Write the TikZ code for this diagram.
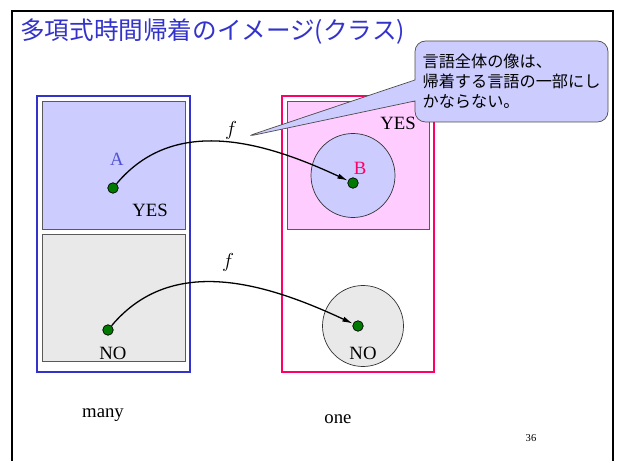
\documentclass[tikz,border=0pt]{standalone}
\usepackage{fontspec}
\setmainfont{Liberation Serif}
\newfontfamily\jpfont{Noto Sans CJK JP}
\usepackage{tikz}
\usetikzlibrary{positioning, arrows.meta, fit, shapes.callouts}

\definecolor{titleblue}{HTML}{3333CC}
\definecolor{framepink}{HTML}{FF0066}
\definecolor{setblue}{HTML}{CCCCFF}
\definecolor{setpink}{HTML}{FFCCFF}
\definecolor{setgray}{HTML}{E9E9E9}
\definecolor{dotgreen}{HTML}{007A00}

\begin{document}
\begin{tikzpicture}[
    x=0.03cm, y=-0.03cm,
    outer/.style={draw, line width=1.8pt, inner sep=0pt},
    inner/.style={draw=black!65, line width=0.6pt, inner sep=0pt},
    setcirc/.style={circle, draw=black!80, line width=0.6pt, inner sep=0pt},
    pt/.style={circle, draw=black, fill=dotgreen, inner sep=0pt, minimum size=9pt, line width=0.6pt},
    lbl/.style={font=\fontsize{16}{19}\selectfont, inner sep=0pt},
    farrow/.style={-{Latex[length=9pt, width=4.5pt]}, line width=1.1pt},
]
\useasboundingbox (0,0) rectangle (622,461);

% slide frame and title
\draw[line width=1.8pt] (12,470) -- (12,11) -- (613,11) -- (613,470);
\node[anchor=west, inner sep=0pt, text=titleblue, font=\jpfont\fontsize{21}{24}\selectfont] (title) at (20,31.5) {多項式時間帰着のイメージ(クラス)};

% left side: many
\node[outer, draw=titleblue, fit={(37,96) (190,372)}] (manybox) {};
\node[inner, fill=setblue, fit={(42,101) (185,229)}] (manyyes) {};
\node[inner, fill=setgray, fit={(42,234) (185,361)}] (manyno) {};
\node[pt] (adot) at (113,188) {};
\node[lbl, text=titleblue!85!white] (alabel) at (117,159) {A};
\node[lbl] (yesleft) at (150,210) {YES};
\node[pt] (nodotl) at (108,330) {};
\node[lbl] (noleft) at (113,353) {NO};

% right side: one
\node[outer, draw=framepink, fit={(282,96) (434,372)}] (onebox) {};
\node[inner, fill=setpink, fit={(287,101) (429,229)}] (oneyes) {};
\node[setcirc, fill=setblue, minimum size=2.52cm] (bset) at (353,175.5) {};
\node[setcirc, fill=setgray, minimum size=2.43cm] (noset) at (363,326) {};
\node[lbl] (yesright) at (398,123) {YES};
\node[lbl, text=framepink] (blabel) at (360,168) {B};
\node[pt] (bdot) at (353,183) {};
\node[pt] (nodotr) at (358,326) {};
\node[lbl] (noright) at (363,353) {NO};

% reduction f
\draw[farrow] (adot) to[out=50, in=155] (bdot);
\draw[farrow] (nodotl) to[out=50, in=155] (nodotr);
\node[lbl] (f1) at (231,130) {$f$};
\node[lbl] (f2) at (228,262) {$f$};

% callout
\coordinate (tip) at (245,137);
\node[rectangle callout, rounded corners=9pt, draw=black!70, line width=0.6pt, fill=setblue,
      minimum width=5.79cm, minimum height=2.43cm, inner sep=0pt,
      callout absolute pointer={(tip)}, callout pointer width=0.63cm,
      align=left, font=\jpfont\fontsize{13.8}{17}\selectfont] (note) at (511.5,81.5)
      {言語全体の像は、\\帰着する言語の一部にし\\かならない。};

% captions
\node[lbl] (many) at (103,415) {many};
\node[lbl] (one) at (338,419) {one};
\node[inner sep=0pt, font=\fontsize{9}{11}\selectfont] (page) at (531,438) {36};
\end{tikzpicture}
\end{document}
